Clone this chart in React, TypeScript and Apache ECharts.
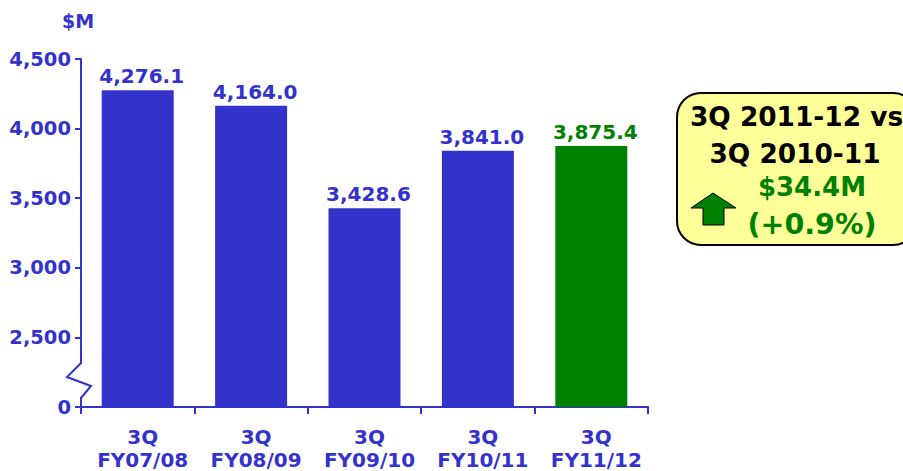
import React, { useEffect, useRef } from "react";
import * as echarts from "echarts";

const categories = ["3Q\nFY07/08", "3Q\nFY08/09", "3Q\nFY09/10", "3Q\nFY10/11", "3Q\nFY11/12"];
const values = [4276.1, 4164.0, 3428.6, 3841.0, 3875.4];
const highlightIndex = 4;
const axisMin = 2000;
const axisMax = 4500;
const axisStep = 500;
const boxLines = ["3Q 2011-12 vs", "3Q 2010-11", "$34.4M", "(+0.9%)"];
const unitLabel = "$M";

const BLUE = "#3333CC";
const GREEN = "#008000";
const FONT = '"DejaVu Sans", Verdana, sans-serif';

const fmt = (v: number) =>
  v.toLocaleString("en-US", { minimumFractionDigits: 1, maximumFractionDigits: 1 });

export default function App() {
  const ref = useRef<HTMLDivElement>(null);
  useEffect(() => {
    document.body.style.margin = "0";
    const chart = echarts.init(ref.current!, undefined, { renderer: "svg" });
    const txt = (text: string, x: number, y: number, fill: string, size: number) => ({
      type: "text",
      x,
      y,
      z: 30,
      style: { text, fill, font: `bold ${size}px ${FONT}`, textAlign: "center", textVerticalAlign: "middle" },
    });
    chart.setOption({
      animation: false,
      grid: { left: 81, right: 255, top: 59, bottom: 64, outerBoundsMode: "none", containLabel: false },
      xAxis: {
        type: "category",
        data: categories,
        axisLine: { lineStyle: { color: BLUE, width: 2 } },
        axisTick: { show: true, alignWithLabel: false, length: 7, lineStyle: { color: BLUE, width: 2 } },
        axisLabel: { color: BLUE, fontFamily: FONT, fontWeight: "bold", fontSize: 20, lineHeight: 23, margin: 18, interval: 0, padding: [0, 0, 0, 10] },
      },
      yAxis: {
        type: "value",
        min: axisMin,
        max: axisMax,
        interval: axisStep,
        splitLine: { show: false },
        axisLine: { show: true, lineStyle: { color: BLUE, width: 2 } },
        axisTick: { show: true, length: 6, lineStyle: { color: BLUE, width: 2 } },
        axisLabel: {
          color: BLUE,
          fontFamily: FONT,
          fontWeight: "bold",
          fontSize: 19.5,
          margin: 10,
          formatter: (v: number) => (v === axisMin ? "0" : v.toLocaleString("en-US")),
        },
      },
      series: [
        {
          type: "bar",
          barWidth: 72,
          data: values.map((v, i) => {
            const color = i === highlightIndex ? GREEN : BLUE;
            return {
              value: v,
              itemStyle: { color },
              label: { color },
            };
          }),
          label: {
            show: true,
            position: "top",
            distance: 4,
            offset: [4, 0],
            fontFamily: FONT,
            fontWeight: "bold",
            fontSize: 20,
            formatter: (p: any) => fmt(p.value),
          },
        },
      ],
      graphic: [
        txt(unitLabel, 78, 21, BLUE, 19),
        { type: "rect", z: 20, shape: { x: 76, y: 364, width: 10, height: 33 }, style: { fill: "#fff" } },
        {
          type: "polyline",
          z: 21,
          shape: { points: [[81, 363], [67, 377], [91, 386], [81, 398]] },
          style: { stroke: BLUE, lineWidth: 2, fill: "none" },
        },
        {
          type: "rect",
          z: 25,
          shape: { x: 677, y: 93, width: 240, height: 152, r: 24 },
          style: { fill: "#FFFF99", stroke: "#000", lineWidth: 2 },
        },
        txt(boxLines[0], 796.5, 116, "#000", 26.4),
        txt(boxLines[1], 795, 153, "#000", 26.4),
        txt(boxLines[2], 812, 187, GREEN, 26),
        txt(boxLines[3], 812, 224, GREEN, 28.5),
        {
          type: "polygon",
          z: 30,
          shape: { points: [[691, 208], [713, 193], [736, 208], [724, 208], [724, 225], [703, 225], [703, 208]] },
          style: { fill: GREEN, stroke: "#000", lineWidth: 1 },
        },
      ],
    });
    return () => chart.dispose();
  }, []);
  return <div ref={ref} style={{ width: 903, height: 471 }} />;
}
